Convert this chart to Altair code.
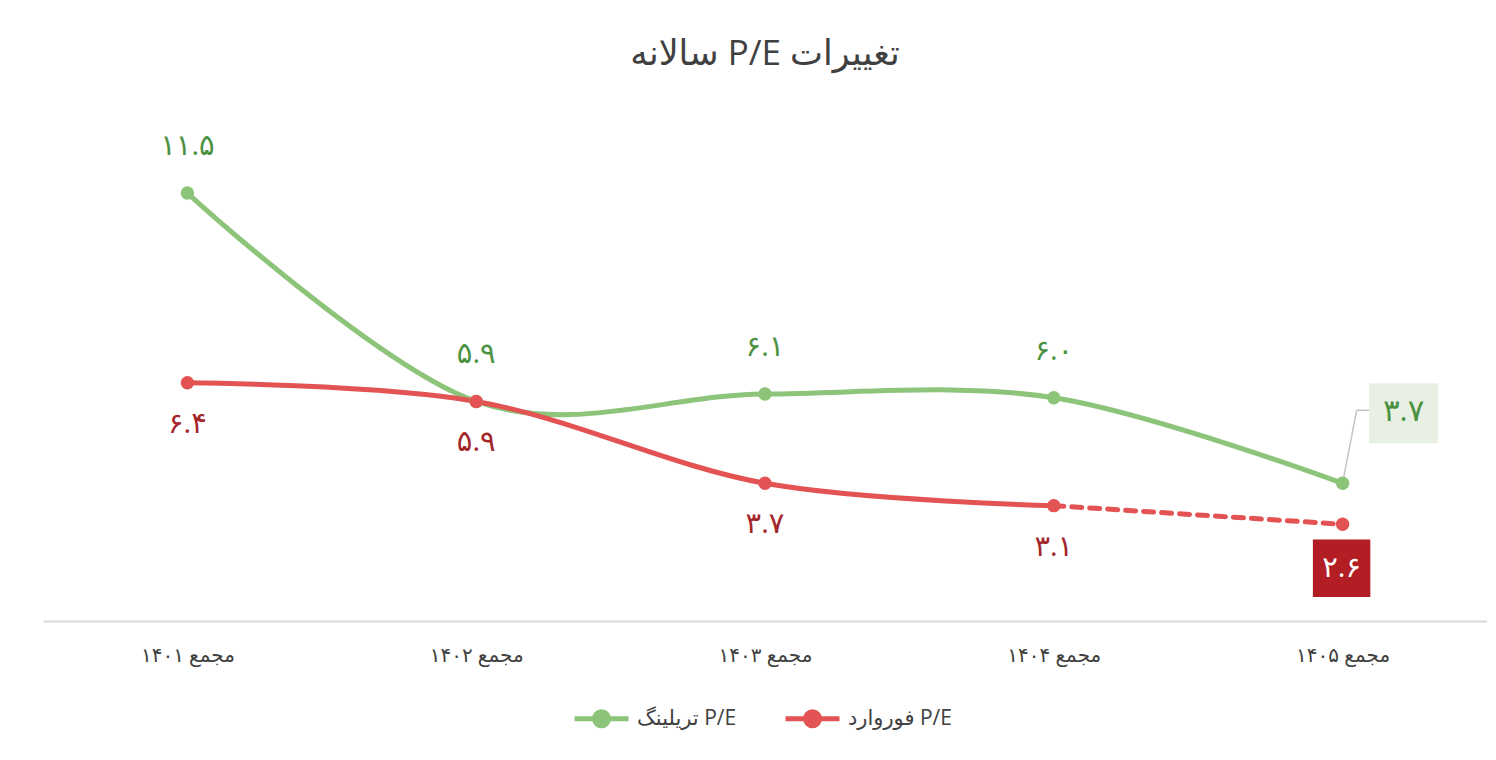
import altair as alt
import pandas as pd

categories = ["مجمع ۱۴۰۱", "مجمع ۱۴۰۲", "مجمع ۱۴۰۳", "مجمع ۱۴۰۴", "مجمع ۱۴۰۵"]
trailing_pe = [11.5, 5.9, 6.1, 6.0, 3.7]
forward_pe = [6.4, 5.9, 3.7, 3.1, 2.6]
series_names = ["P/E تریلینگ", "P/E فوروارد"]
title_text = "تغییرات P/E سالانه"

GREEN = "#8cc47a"
RED = "#e35353"
GREEN_TXT = "#4c9142"
RED_TXT = "#a3252a"
GREEN_BOX = "#e7f0e2"
RED_BOX = "#b21e24"
TXT = "#404040"
FONT = "Open Sans, DejaVu Sans, sans-serif"

RLE, PDF = "\u202b", "\u202c"


def rtl(s):
    return RLE + s + PDF


PERSIAN = str.maketrans("0123456789", "۰۱۲۳۴۵۶۷۸۹")


def fa(v):
    return f"{v:.1f}".translate(PERSIAN)


names = [rtl(n) for n in series_names]
rows = []
for name, vals in zip(names, [trailing_pe, forward_pe]):
    for i, (c, v) in enumerate(zip(categories, vals)):
        rows.append({"series": name, "cat": c, "val": v, "label": fa(v), "idx": i})
df = pd.DataFrame(rows)

n = len(categories)
tr = df[df.series == names[0]]
fw = df[df.series == names[1]]

x = alt.X("cat:N", sort=categories,
          scale=alt.Scale(type="point", padding=0.5),
          axis=alt.Axis(title=None, labelAngle=0, ticks=False, tickSize=0,
                        labelPadding=24, labelFontSize=20, labelColor=TXT,
                        labelFont=FONT, domainColor="#d9d9d9", domainWidth=2,
                        grid=False))
y = alt.Y("val:Q", scale=alt.Scale(domain=[0, 14], nice=False, zero=True), axis=None)

color_scale = alt.Scale(domain=names, range=[GREEN, RED])

legend_path = ("M-1,0L1,0M-0.26,0A0.26,0.26,0,1,0,0.26,0"
               "A0.26,0.26,0,1,0,-0.26,0Z")
legend = alt.Legend(
    title=None, orient="none", direction="horizontal",
    legendX=529, legendY=589,
    symbolType=legend_path, symbolSize=2916, symbolStrokeWidth=5,
    symbolOpacity=1,
    labelFontSize=21, labelColor=TXT, labelFont=FONT, labelOffset=6,
    columnPadding=38,
)
color = alt.Color("series:N", scale=color_scale, legend=legend)

line_kw = dict(interpolate="cardinal", tension=0, strokeWidth=5, strokeCap="round")

solid_df = pd.concat([tr, fw[fw.idx <= n - 2]])
lines = alt.Chart(solid_df).mark_line(**line_kw).encode(x=x, y=y, color=color)
red_dash = alt.Chart(fw[fw.idx >= n - 2]).mark_line(
    color=RED, strokeWidth=5, strokeDash=[10, 8], strokeCap="round"
).encode(x=x, y=y)

last_tr = tr[tr.idx == n - 1]
last_fw = fw[fw.idx == n - 1]

leader1 = alt.Chart(last_tr).mark_rule(color="#c4c4c4", strokeWidth=1.5,
                                        x2Offset=14, y2Offset=-73).encode(
    x=x, y=y, x2="cat:N", y2="val:Q")
leader2 = alt.Chart(last_tr).mark_rule(color="#c4c4c4", strokeWidth=1.5,
                                        xOffset=14, x2Offset=27,
                                        yOffset=-73, y2Offset=-73).encode(
    x=x, y=y, x2="cat:N", y2="val:Q")

points = alt.Chart(df).mark_point(filled=True, size=180, opacity=1).encode(
    x=x, y=y, color=color,
)

green_box = alt.Chart(last_tr).mark_point(
    shape="M-1.15,-1L1.15,-1L1.15,1L-1.15,1Z", filled=True, size=3600,
    color=GREEN_BOX, opacity=1, xOffset=61, yOffset=-70).encode(x=x, y=y)
red_box = alt.Chart(last_fw).mark_point(
    shape="square", filled=True, size=3300, color=RED_BOX, opacity=1,
    xOffset=-1, yOffset=44).encode(x=x, y=y)

tr_labels = alt.Chart(tr[tr.idx <= n - 2]).mark_text(
    dy=-47, fontSize=29, color=GREEN_TXT, font=FONT, baseline="middle").encode(
    x=x, y=y, text="label:N")
fw_labels = alt.Chart(fw[fw.idx <= n - 2]).mark_text(
    dy=41, fontSize=29, color=RED_TXT, font=FONT, baseline="middle").encode(
    x=x, y=y, text="label:N")
tr_last_label = alt.Chart(last_tr).mark_text(
    dx=61, dy=-71, fontSize=31, color=GREEN_TXT, font=FONT, baseline="middle").encode(
    x=x, y=y, text="label:N")
fw_last_label = alt.Chart(last_fw).mark_text(
    dx=-1, dy=44, fontSize=29, color="white", font=FONT, baseline="middle").encode(
    x=x, y=y, text="label:N")

chart = alt.layer(
    lines, red_dash, leader1, leader2, points,
    green_box, red_box, tr_labels, fw_labels, tr_last_label, fw_last_label,
).properties(
    width=1444, height=521,
    title=alt.TitleParams(rtl(title_text), fontSize=35, color="#404040",
                          font=FONT, fontWeight="normal", anchor="middle",
                          offset=28),
    padding={"left": 35, "right": 0, "top": 29, "bottom": 0},
    background="white",
).configure_view(stroke=None)

chart.save("out.html", embed_options={"renderer": "svg", "actions": False})
